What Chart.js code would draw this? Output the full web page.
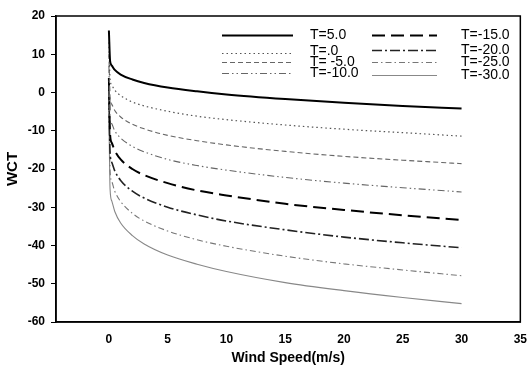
<!DOCTYPE html>
<html>
<head>
<meta charset="utf-8">
<script src="https://cdn.jsdelivr.net/npm/chart.js@4/dist/chart.umd.min.js"></script>
<style>
  html, body { margin: 0; padding: 0; background: #fff; }
  #wrap { width: 532px; height: 368px; }
</style>
</head>
<body>
<div id="wrap"><canvas id="c" width="532" height="368"></canvas></div>
<script>
// Wind speed (m/s) sample points
const windSpeed = [0, 0.1, 0.25, 0.5, 1, 2, 3, 5, 7.5, 10, 15, 20, 25, 30];
// WCT values for each air temperature
const wctT5   = [16.2,   8.3,   7.0,   5.9,   4.7,   3.4,   2.5,   1.3,   0.3,  -0.5,  -1.7,  -2.7,  -3.5,  -4.2];
const wctT0   = [13.1,   3.5,   1.9,   0.6,  -0.8,  -2.5,  -3.5,  -4.9,  -6.2,  -7.1,  -8.5,  -9.6, -10.5, -11.4];
const wctTm5  = [10.0,  -1.3,  -3.1,  -4.7,  -6.4,  -8.3,  -9.5, -11.2, -12.6, -13.7, -15.4, -16.7, -17.7, -18.6];
const wctTm10 = [ 6.9,  -6.1,  -8.2, -10.0, -11.9, -14.1, -15.5, -17.5, -19.1, -20.3, -22.2, -23.7, -24.9, -26.0];
const wctTm15 = [ 3.8, -10.9, -13.2, -15.2, -17.5, -20.0, -21.6, -23.7, -25.6, -26.9, -29.1, -30.7, -32.1, -33.3];
const wctTm20 = [ 0.7, -15.7, -18.3, -20.5, -23.0, -25.8, -27.6, -30.0, -32.0, -33.6, -35.9, -37.8, -39.3, -40.6];
const wctTm25 = [-2.4, -20.5, -23.3, -25.8, -28.5, -31.6, -33.6, -36.2, -38.5, -40.2, -42.8, -44.8, -46.4, -47.9];
const wctTm30 = [-5.5, -25.3, -28.4, -31.1, -34.1, -37.4, -39.6, -42.5, -44.9, -46.8, -49.7, -51.8, -53.6, -55.2];
const seriesLabels = ['T=5.0', 'T=.0', 'T= -5.0', 'T=-10.0', 'T=-15.0', 'T=-20.0', 'T=-25.0', 'T=-30.0'];
const xTickValues = [0, 5, 10, 15, 20, 25, 30, 35];
const yTickValues = [20, 10, 0, -10, -20, -30, -40, -50, -60];

const seriesValues = [wctT5, wctT0, wctTm5, wctTm10, wctTm15, wctTm20, wctTm25, wctTm30];
const styles = [
  { color: '#000000', width: 2,   dash: [] },
  { color: '#555555', width: 1.2, dash: [1.5, 3] },
  { color: '#666666', width: 1.1, dash: [5, 3] },
  { color: '#666666', width: 1.1, dash: [7, 3, 1.5, 3, 1.5, 3] },
  { color: '#000000', width: 2,   dash: [13, 6] },
  { color: '#222222', width: 1.6, dash: [10, 3, 2, 3] },
  { color: '#777777', width: 1.1, dash: [6, 3, 1.5, 3] },
  { color: '#888888', width: 1.1, dash: [] }
];

const datasets = seriesValues.map((vals, i) => ({
  label: seriesLabels[i],
  data: windSpeed.map((v, j) => ({ x: v, y: vals[j] })),
  borderColor: styles[i].color,
  borderWidth: styles[i].width,
  borderDash: styles[i].dash,
  pointRadius: 0,
  fill: false,
  cubicInterpolationMode: 'monotone'
}));

const legendPlugin = {
  id: 'customLegend',
  afterDatasetsDraw(chart) {
    const ctx = chart.ctx;
    const cols = [
      { lx1: 222, lx2: 293, tx: 310, rows: [35, 51, 62, 73], lineRows: [35, 53, 62, 73] },
      { lx1: 372, lx2: 437, tx: 461, rows: [35, 50, 62, 75], lineRows: [35, 50, 62, 75] }
    ];
    ctx.save();
    ctx.font = '14px "Liberation Sans", Arial, sans-serif';
    ctx.textBaseline = 'middle';
    ctx.fillStyle = '#000';
    for (let i = 0; i < 8; i++) {
      const c = cols[Math.floor(i / 4)];
      const r = i % 4;
      const ds = chart.data.datasets[i];
      ctx.beginPath();
      ctx.strokeStyle = ds.borderColor;
      ctx.lineWidth = ds.borderWidth;
      ctx.setLineDash(ds.borderDash);
      ctx.moveTo(c.lx1, c.lineRows[r] + 0.5);
      ctx.lineTo(c.lx2, c.lineRows[r] + 0.5);
      ctx.stroke();
      ctx.setLineDash([]);
      ctx.fillText(ds.label, c.tx, c.rows[r]);
    }
    ctx.restore();
  }
};

const boxPlugin = {
  id: 'box',
  afterDraw(chart) {
    const a = chart.chartArea;
    const ctx = chart.ctx;
    ctx.save();
    ctx.strokeStyle = '#000';
    ctx.lineWidth = 1.5;
    ctx.strokeRect(a.left, a.top, a.right - a.left, a.bottom - a.top);
    ctx.restore();
  }
};

new Chart(document.getElementById('c'), {
  type: 'line',
  data: { datasets },
  options: {
    responsive: false,
    animation: false,
    layout: { padding: { top: 16, right: 6, left: 0, bottom: 0 } },
    plugins: { legend: { display: false }, tooltip: { enabled: false } },
    scales: {
      x: {
        type: 'linear',
        min: -4.5,
        max: 35,
        afterBuildTicks(scale) { scale.ticks = xTickValues.map(v => ({ value: v })); },
        afterFit(scale) { scale.height = 46; },
        grid: { display: false, drawOnChartArea: false, drawTicks: true, tickLength: 5, color: '#000' },
        border: { display: true, color: '#000', width: 1.5 },
        ticks: { color: '#000', font: { family: '"Liberation Sans", Arial, sans-serif', size: 12, weight: 'bold' }, padding: 5, maxRotation: 0 },
        title: { display: true, text: 'Wind Speed(m/s)', color: '#000', font: { family: '"Liberation Sans", Arial, sans-serif', size: 14, weight: 'bold' }, padding: { top: 2, bottom: 1 } }
      },
      y: {
        type: 'linear',
        min: -60,
        max: 20,
        afterBuildTicks(scale) { scale.ticks = yTickValues.map(v => ({ value: v })); },
        afterFit(scale) { scale.width = 56; },
        grid: { display: true, drawOnChartArea: false, drawTicks: true, tickLength: 5, color: '#000' },
        border: { display: true, color: '#000', width: 1.5 },
        ticks: { color: '#000', font: { family: '"Liberation Sans", Arial, sans-serif', size: 12, weight: 'bold' }, padding: 6 },
        title: { display: true, text: 'WCT', color: '#000', font: { family: '"Liberation Sans", Arial, sans-serif', size: 15, weight: 'bold' }, padding: { top: 4, bottom: 0 } }
      }
    }
  },
  plugins: [legendPlugin, boxPlugin]
});
</script>
</body>
</html>
